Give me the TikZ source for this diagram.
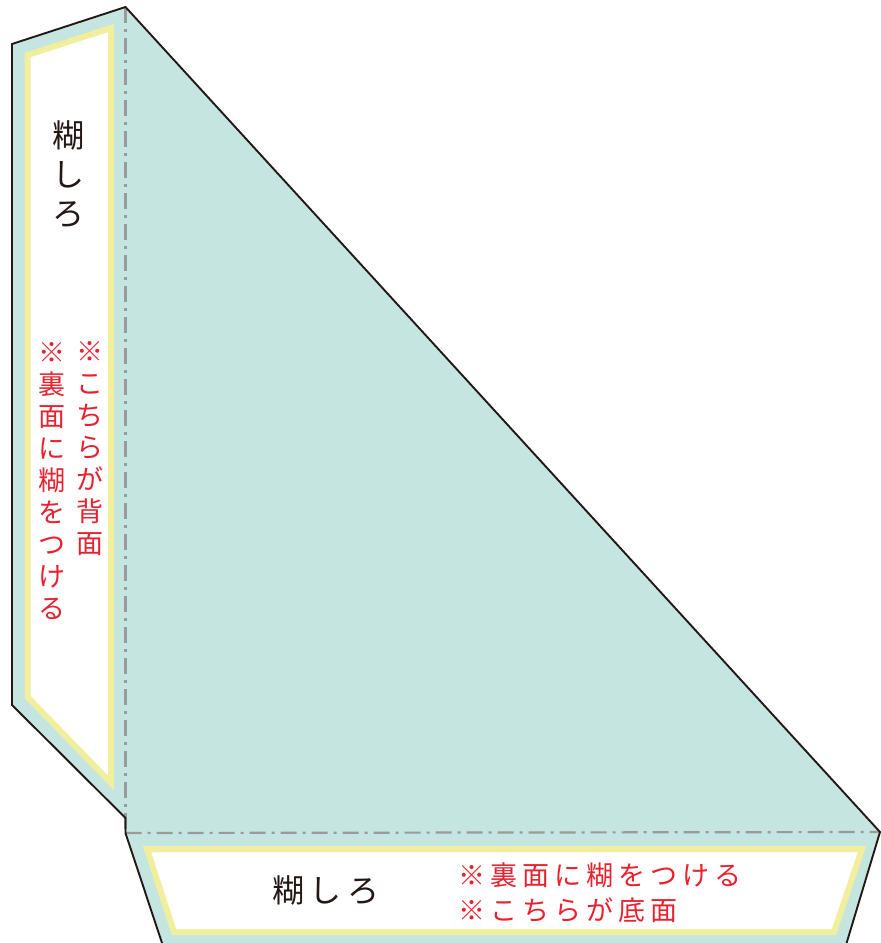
\documentclass[tikz,border=0pt]{standalone}
\usepackage{fontspec}
\newfontfamily\jp{Noto Sans CJK JP}
\definecolor{tealfill}{HTML}{C5E5E1}
\definecolor{glueyellow}{HTML}{F1EF9E}
\definecolor{notered}{HTML}{E8212F}
\definecolor{foldgray}{HTML}{9A9A9A}
\definecolor{inkblack}{HTML}{231815}
\newcommand\cbox[1]{\makebox[32pt]{#1}}
\newcommand\cboxw[1]{\makebox[38pt]{#1}}
\tikzset{
  outline/.style={draw=inkblack, line width=1.9pt, line join=miter},
  gluearea/.style={fill=white, draw=glueyellow, line width=6pt, line join=miter},
  foldline/.style={draw=foldgray, line width=2.2pt, dash pattern=on 16pt off 6pt on 3pt off 6pt},
  blacktext/.style={text=inkblack, font=\jp\fontsize{32}{39}\selectfont, align=center, inner sep=0pt},
  redtext/.style={text=notered, font=\jp\fontsize{27}{32}\selectfont, align=center, inner sep=0pt},
}
\begin{document}
\begin{tikzpicture}[x=1pt,y=-1pt]
\useasboundingbox (0,0) rectangle (881,943);
\clip (0,0) rectangle (881,943);
% net outline
\coordinate (tl) at (12,44);
\coordinate (apex) at (125.5,7);
\coordinate (rc) at (880,832);
\coordinate (br) at (843,955);
\coordinate (bl) at (166,955);
\coordinate (bc) at (125.5,833);
\coordinate (lc) at (125.5,818);
\coordinate (ll) at (12,705);
\fill[tealfill] (tl) -- (apex) -- (rc) -- (br) -- (bl) -- (bc) -- (lc) -- (ll) -- cycle;
% glue areas
\draw[gluearea] (27.5,55) -- (111,28) -- (111,783) -- (27.5,697) -- cycle;
\draw[gluearea] (147,849) -- (862,849) -- (834,932) -- (174,932) -- cycle;
% fold lines
\draw[foldline] (apex) -- (bc);
\draw[foldline] (bc) -- (rc);
% outline
\draw[outline] (bc) -- (lc) -- (ll) -- (tl) -- (apex) -- (rc) -- (br);
\draw[outline] (bc) -- (bl);
% texts
\node[blacktext] (side) at (68,174) {糊\\し\\ろ};
\node[redtext] (noteL) at (52,481) {※\\裏\\面\\に\\糊\\を\\つ\\け\\る};
\node[redtext] (noteR) at (90,449) {※\\こ\\ち\\ら\\が\\背\\面};
\node[blacktext, anchor=center] (bottom) at (326,891) {\cboxw{糊}\cboxw{し}\cboxw{ろ}};
\node[redtext, anchor=west] (note1) at (456,875) {\cbox{※}\cbox{裏}\cbox{面}\cbox{に}\cbox{糊}\cbox{を}\cbox{つ}\cbox{け}\cbox{る}};
\node[redtext, anchor=west] (note2) at (456,910) {\cbox{※}\cbox{こ}\cbox{ち}\cbox{ら}\cbox{が}\cbox{底}\cbox{面}};
\end{tikzpicture}
\end{document}
